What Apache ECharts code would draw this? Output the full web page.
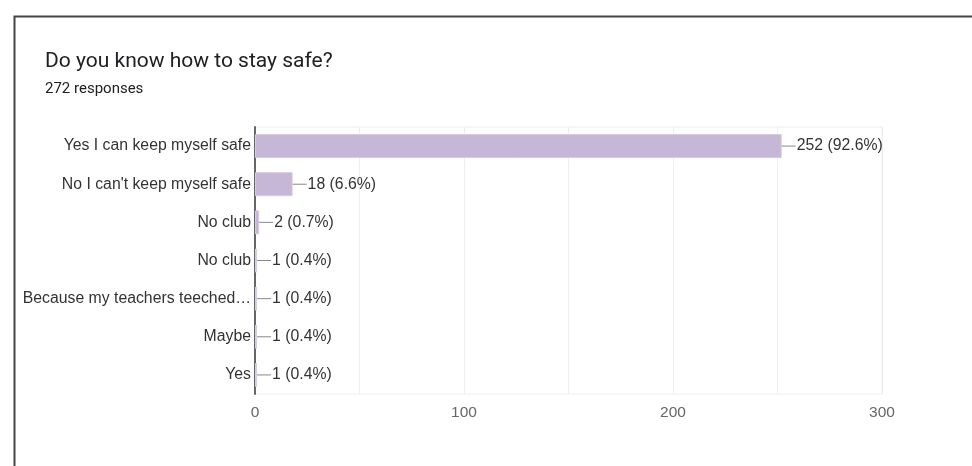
<!DOCTYPE html>
<html>
<head>
<meta charset="utf-8">
<script src="https://cdn.jsdelivr.net/npm/echarts@6/dist/echarts.min.js"></script>
<style>
html,body{margin:0;padding:0;background:#fff;}
#chart{width:972px;height:466px;}
</style>
</head>
<body>
<div id="chart"></div>
<script>
const categories = ["Yes I can keep myself safe", "No I can't keep myself safe", "No club", "No club", "Because my teachers teeched\u2026", "Maybe", "Yes"];
const counts = [252, 18, 2, 1, 1, 1, 1];
const percents = ["92.6%", "6.6%", "0.7%", "0.4%", "0.4%", "0.4%", "0.4%"];
const xTicks = [0, 100, 200, 300];
const totalResponses = 272;

const chart = echarts.init(document.getElementById('chart'));
const FONT = '"Liberation Sans", Arial, sans-serif';
chart.setOption({
  animation: false,
  graphic: [
    { type: 'rect', left: 12, top: 14, shape: { width: 1000, height: 500 }, style: { fill: 'none', stroke: '#444', lineWidth: 2 } }
  ],
  title: {
    text: 'Do you know how to stay safe?',
    subtext: totalResponses + ' responses',
    left: 40, top: 46,
    itemGap: 10,
    textStyle: { fontFamily: 'Roboto', fontSize: 21, fontWeight: 'normal', color: '#202124' },
    subtextStyle: { fontFamily: 'Roboto', fontSize: 15, color: '#202124' }
  },
  grid: { left: 255, right: 90, top: 127, bottom: 72, show: true, borderColor: '#eeeeee', borderWidth: 1 },
  xAxis: {
    type: 'value', min: 0, max: 300, interval: 50,
    axisLine: { show: false }, axisTick: { show: false },
    splitLine: { lineStyle: { color: '#eeeeee' } },
    axisLabel: {
      margin: 11, color: '#666', fontSize: 15.5, fontFamily: FONT,
      formatter: v => xTicks.indexOf(v) >= 0 ? String(v) : ''
    }
  },
  yAxis: {
    type: 'category', inverse: true,
    data: categories.map((c, i) => String(i)),
    axisLine: { lineStyle: { color: '#666', width: 2 } },
    axisTick: { show: false },
    axisLabel: { margin: 4, color: '#333', fontSize: 15.8, fontFamily: FONT, formatter: (v, i) => categories[Number(v)] }
  },
  series: [{
    type: 'bar',
    data: counts,
    barWidth: 24,
    itemStyle: { color: '#c6b7d6', borderColor: '#d6cbe1', borderWidth: 1 },
    label: {
      show: true, position: 'right', distance: 0,
      formatter: p => '{l| }{t|' + counts[p.dataIndex] + ' (' + percents[p.dataIndex] + ')}',
      rich: {
        l: { width: 14, height: 1, backgroundColor: '#888', lineHeight: 1 },
        t: { fontSize: 15.8, color: '#333', fontFamily: FONT, padding: [0, 0, 0, 1] }
      }
    }
  }]
});
</script>
</body>
</html>
